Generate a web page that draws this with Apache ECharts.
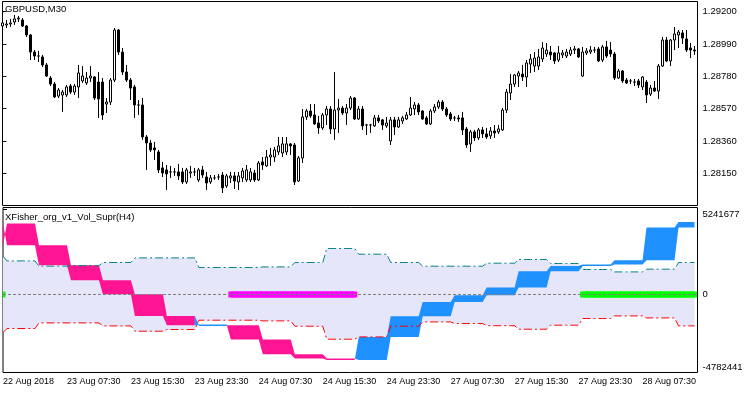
<!DOCTYPE html>
<html><head><meta charset="utf-8">
<script src="https://cdn.jsdelivr.net/npm/echarts@6/dist/echarts.min.js"></script>
<style>html,body{margin:0;padding:0;background:#fff}#c{width:750px;height:394px}</style>
</head><body><div id="c"></div>
<script>
// ---- time axis ----
const timeLabels = ["22 Aug 2018","23 Aug 07:30","23 Aug 15:30","23 Aug 23:30","24 Aug 07:30","24 Aug 15:30","24 Aug 23:30","27 Aug 07:30","27 Aug 15:30","27 Aug 23:30","28 Aug 07:30"];
const timeLabelBars = [0,16,32,48,64,80,96,112,128,144,160];

// ---- GBPUSD M30 candles (bar index 0..173) ----
const open = [1.29107,1.29114,1.29120,1.29133,1.29153,1.29146,1.29107,1.29049,1.28938,1.28912,
1.28906,1.28854,1.28769,1.28730,1.28652,1.28659,1.28659,1.28717,1.28678,1.28711,
1.28750,1.28737,1.28769,1.28776,1.28743,1.28743,1.28600,1.28613,1.28756,1.29081,
1.28938,1.28808,1.28756,1.28711,1.28594,1.28594,1.28386,1.28347,1.28315,1.28289,
1.28185,1.28172,1.28159,1.28159,1.28159,1.28159,1.28094,1.28152,1.28159,1.28107,
1.28172,1.28126,1.28094,1.28120,1.28126,1.28139,1.28068,1.28120,1.28133,1.28094,
1.28120,1.28107,1.28107,1.28152,1.28107,1.28224,1.28198,1.28256,1.28256,1.28289,
1.28282,1.28289,1.28341,1.28334,1.28100,1.28250,1.28516,1.28555,1.28529,1.28477,
1.28445,1.28529,1.28568,1.28438,1.28561,1.28574,1.28542,1.28574,1.28639,1.28503,
1.28568,1.28464,1.28464,1.28458,1.28510,1.28497,1.28458,1.28360,1.28497,1.28451,
1.28490,1.28503,1.28529,1.28568,1.28594,1.28555,1.28510,1.28471,1.28555,1.28581,
1.28613,1.28568,1.28536,1.28510,1.28510,1.28510,1.28438,1.28341,1.28419,1.28380,
1.28432,1.28406,1.28393,1.28425,1.28419,1.28432,1.28561,1.28672,1.28730,1.28782,
1.28795,1.28776,1.28860,1.28847,1.28847,1.28893,1.28925,1.28938,1.28932,1.28886,
1.28919,1.28912,1.28925,1.28951,1.28958,1.28782,1.28932,1.28938,1.28951,1.28958,
1.28886,1.28971,1.28951,1.28925,1.28769,1.28815,1.28756,1.28750,1.28743,1.28750,
1.28711,1.28743,1.28665,1.28704,1.28685,1.28847,1.29016,1.28880,1.29016,1.29049,
1.29062,1.29023,1.28964,1.28951];
const close = [1.29127,1.29120,1.29127,1.29153,1.29159,1.29107,1.29049,1.28938,1.28912,1.28912,
1.28854,1.28782,1.28730,1.28646,1.28691,1.28678,1.28711,1.28678,1.28717,1.28802,
1.28782,1.28769,1.28782,1.28639,1.28633,1.28529,1.28613,1.28756,1.29081,1.28938,
1.28808,1.28756,1.28704,1.28594,1.28594,1.28386,1.28347,1.28302,1.28302,1.28172,
1.28152,1.28146,1.28159,1.28159,1.28133,1.28094,1.28172,1.28159,1.28159,1.28172,
1.28139,1.28087,1.28120,1.28120,1.28126,1.28055,1.28133,1.28133,1.28100,1.28133,
1.28165,1.28172,1.28159,1.28107,1.28217,1.28204,1.28256,1.28269,1.28302,1.28328,
1.28341,1.28341,1.28328,1.28094,1.28250,1.28516,1.28555,1.28523,1.28471,1.28445,
1.28529,1.28568,1.28438,1.28561,1.28574,1.28542,1.28574,1.28639,1.28503,1.28568,
1.28458,1.28464,1.28464,1.28510,1.28490,1.28464,1.28477,1.28497,1.28451,1.28497,
1.28510,1.28529,1.28574,1.28594,1.28549,1.28503,1.28471,1.28555,1.28581,1.28613,
1.28568,1.28529,1.28503,1.28510,1.28503,1.28432,1.28334,1.28419,1.28380,1.28432,
1.28406,1.28386,1.28425,1.28412,1.28438,1.28561,1.28678,1.28730,1.28789,1.28802,
1.28776,1.28867,1.28893,1.28899,1.28906,1.28964,1.28951,1.28919,1.28880,1.28932,
1.28932,1.28938,1.28951,1.28958,1.28906,1.28938,1.28945,1.28951,1.28951,1.28880,
1.28971,1.28912,1.28925,1.28769,1.28815,1.28750,1.28737,1.28750,1.28743,1.28724,
1.28776,1.28659,1.28704,1.28685,1.28847,1.29016,1.28880,1.29016,1.29055,1.29068,
1.29029,1.28951,1.28951,1.28945];
const high = [1.29179,1.29146,1.29153,1.29179,1.29172,1.29159,1.29114,1.29055,1.28951,1.28945,
1.28919,1.28867,1.28782,1.28743,1.28704,1.28691,1.28724,1.28730,1.28730,1.28854,
1.28847,1.28808,1.28847,1.28782,1.28808,1.28769,1.28639,1.28769,1.29094,1.29088,
1.28964,1.28854,1.28769,1.28724,1.28626,1.28639,1.28399,1.28367,1.28354,1.28302,
1.28224,1.28204,1.28198,1.28185,1.28211,1.28185,1.28185,1.28198,1.28185,1.28185,
1.28198,1.28159,1.28139,1.28139,1.28146,1.28159,1.28146,1.28159,1.28159,1.28159,
1.28185,1.28204,1.28185,1.28172,1.28230,1.28256,1.28302,1.28315,1.28321,1.28386,
1.28386,1.28386,1.28347,1.28347,1.28263,1.28568,1.28568,1.28600,1.28600,1.28523,
1.28542,1.28587,1.28587,1.28808,1.28633,1.28587,1.28600,1.28652,1.28646,1.28587,
1.28587,1.28471,1.28471,1.28529,1.28529,1.28503,1.28516,1.28516,1.28516,1.28516,
1.28523,1.28549,1.28646,1.28613,1.28607,1.28561,1.28523,1.28568,1.28600,1.28626,
1.28626,1.28581,1.28549,1.28523,1.28529,1.28549,1.28451,1.28432,1.28432,1.28445,
1.28451,1.28445,1.28451,1.28464,1.28464,1.28574,1.28698,1.28795,1.28795,1.28815,
1.28854,1.28886,1.28925,1.28938,1.28958,1.29003,1.28997,1.28977,1.28938,1.28977,
1.28951,1.28958,1.28971,1.28977,1.28964,1.28971,1.28964,1.28977,1.28971,1.28971,
1.28984,1.29010,1.29003,1.28938,1.28828,1.28821,1.28769,1.28763,1.28763,1.28763,
1.28782,1.28756,1.28724,1.28750,1.28860,1.29036,1.29036,1.29023,1.29101,1.29081,
1.29081,1.29081,1.28997,1.28977];
const low = [1.29036,1.29094,1.29101,1.29114,1.29133,1.29101,1.29036,1.28886,1.28886,1.28873,
1.28841,1.28776,1.28717,1.28639,1.28639,1.28549,1.28646,1.28665,1.28659,1.28639,
1.28737,1.28724,1.28743,1.28626,1.28510,1.28497,1.28542,1.28594,1.28743,1.28919,
1.28789,1.28743,1.28626,1.28510,1.28529,1.28367,1.28172,1.28289,1.28237,1.28152,
1.28126,1.28042,1.28120,1.28133,1.28107,1.28081,1.28081,1.28120,1.28133,1.28094,
1.28120,1.28042,1.28081,1.28107,1.28107,1.28022,1.28055,1.28087,1.28048,1.28042,
1.28094,1.28094,1.28094,1.28094,1.28100,1.28172,1.28191,1.28198,1.28224,1.28269,
1.28256,1.28269,1.28269,1.28074,1.28094,1.28217,1.28497,1.28510,1.28464,1.28406,
1.28432,1.28464,1.28406,1.28367,1.28412,1.28529,1.28464,1.28561,1.28497,1.28497,
1.28432,1.28399,1.28412,1.28451,1.28477,1.28432,1.28445,1.28334,1.28399,1.28445,
1.28471,1.28497,1.28523,1.28529,1.28529,1.28497,1.28464,1.28464,1.28542,1.28568,
1.28555,1.28516,1.28490,1.28490,1.28484,1.28399,1.28315,1.28289,1.28360,1.28367,
1.28380,1.28373,1.28373,1.28380,1.28406,1.28425,1.28542,1.28626,1.28711,1.28711,
1.28750,1.28711,1.28802,1.28808,1.28821,1.28873,1.28906,1.28886,1.28860,1.28873,
1.28899,1.28899,1.28912,1.28925,1.28899,1.28776,1.28919,1.28925,1.28932,1.28873,
1.28873,1.28899,1.28906,1.28756,1.28763,1.28737,1.28730,1.28730,1.28717,1.28704,
1.28691,1.28607,1.28652,1.28678,1.28633,1.28841,1.28873,1.28847,1.28951,1.28964,
1.28990,1.28938,1.28899,1.28919];
const priceTicks = [1.2815,1.2836,1.2857,1.2878,1.2899,1.2920];

// ---- XFisher indicator, one value per H4 bar ----
const bandUpper = [2364000,2074000,1753000,1778000,1975000,2259000,2259000,1667000,1667000,1704000,1975000,2839000,2488000,1975000,1747000,1747000,1932000,2160000,1914000,1543000,1395000,1562000,1975000];
const bandLower = [-2346000,-2099000,-1753000,-1753000,-1938000,-2265000,-2160000,-1586000,-1586000,-1630000,-1957000,-2759000,-2617000,-1957000,-1691000,-1790000,-1926000,-2142000,-1895000,-1481000,-1321000,-1444000,-1938000];
const fisher = [4382688,3043190,1808630,882710,15000,-1320979,-1895050,-1895050,-2777760,-3685162,-3950592,-4043184,-2617267,-1339498,-456787,-43210,432096,1438262,1765421,1851840,2117270,4135776,4481453];
const fisherPrev = [3043190,4382688,3043190,1808630,882710,15000,-1320979,-1895050,-1895050,-2777760,-3685162,-3950592,-4043184,-2617267,-1339498,-456787,-43210,432096,1438262,1765421,1851840,2117270,4135776];
const signal = [1,0,0,0,0,0,0,0,-1,-1,-1,-1,0,0,0,0,0,0,0,1,1,1,1];
const indTicks = [-4782441,0,5241677];

// ---- build per-M30-bar tables ----
const nBars = open.length;
const barsPerH4 = 8;
const segOf = i => i === 0 ? 0 : Math.ceil(i / barsPerH4);
const candles = [], bandData = [], histData = [], markData = [], upData = [], loData = [], zeroData = [];
for (let i = 0; i < nBars; i++) {
  const k = segOf(i), kp = segOf(Math.max(i - 1, 0));
  candles.push([i, open[i], close[i], low[i], high[i]]);
  upData.push([i, bandUpper[k]]);
  loData.push([i, bandLower[k]]);
  bandData.push([i, bandUpper[k], bandLower[k]]);
  histData.push([i, fisher[k], fisherPrev[k]]);
  zeroData.push([i, 0]);
  markData.push([i, 0, signal[k], i === 0 ? 0 : signal[kp]]);
}

const FONT = '"Liberation Sans", Arial, sans-serif';
const UP_COLOR = '#1E90FF', DOWN_COLOR = '#FF1493';
const chart = echarts.init(document.getElementById('c'), null, {renderer: 'canvas'});

function dashLine(data, color, z) {
  return {
    type: 'custom', xAxisIndex: 1, yAxisIndex: 1, clip: true, silent: true, z: z,
    data: data, encode: {x: 0, y: 1},
    renderItem: function (params, api) {
      if (params.dataIndexInside !== 0) return null;
      const pts = [];
      for (let j = 0; j < nBars; j++) pts.push(api.coord([api.value(0, j), api.value(1, j)]));
      return {type: 'polyline', shape: {points: pts},
        style: {stroke: color, lineWidth: 1, lineDash: [8, 3, 2, 3], fill: 'none', blend: 'multiply'}};
    }
  };
}

chart.setOption({
  animation: false,
  backgroundColor: '#ffffff',
  title: [
    {text: 'GBPUSD,M30', left: 5, top: 4, padding: 0, textStyle: {fontSize: 9.5, fontWeight: 'normal', color: '#000', fontFamily: FONT}},
    {text: 'XFisher_org_v1_Vol_Supr(H4)', left: 5, top: 212, padding: 0, textStyle: {fontSize: 9.5, fontWeight: 'normal', color: '#000', fontFamily: FONT}}
  ],
  grid: [
    {left: 2.5, top: 1.5, width: 695, height: 204, show: true, borderColor: '#000', borderWidth: 1, backgroundColor: 'transparent'},
    {left: 2.5, top: 207.5, width: 695, height: 165, show: true, borderColor: '#000', borderWidth: 1, backgroundColor: 'transparent'}
  ],
  xAxis: [
    {type: 'value', gridIndex: 0, min: 0, max: 173.75, show: false},
    {type: 'value', gridIndex: 1, min: 0, max: 173.75, interval: 16,
      axisLine: {show: false}, splitLine: {show: false},
      axisTick: {show: true, customValues: timeLabelBars, length: 4, lineStyle: {color: '#000'}},
      axisLabel: {customValues: timeLabelBars, align: 'left', margin: 5, fontSize: 9, color: '#000', fontFamily: FONT,
        formatter: v => timeLabels[timeLabelBars.indexOf(v)] || ''}}
  ],
  yAxis: [
    {type: 'value', gridIndex: 0, position: 'right', min: 1.279408, max: 1.292663,
      axisLine: {show: false}, splitLine: {show: false},
      axisTick: {show: true, customValues: priceTicks, length: 4, lineStyle: {color: '#000'}},
      axisLabel: {customValues: priceTicks, margin: 5, fontSize: 9.5, color: '#000', fontFamily: FONT, formatter: v => v.toFixed(5)}},
    {type: 'value', gridIndex: 1, position: 'right', min: -4814784, max: 5370336,
      axisLine: {show: false}, splitLine: {show: false},
      axisTick: {show: true, customValues: indTicks, length: 4, lineStyle: {color: '#000'}},
      axisLabel: {customValues: indTicks, margin: 5, fontSize: 9.5, color: '#000', fontFamily: FONT,
        verticalAlignMinLabel: 'bottom', verticalAlignMaxLabel: 'top', formatter: v => String(v)}}
  ],
  series: [
    {type: 'candlestick', xAxisIndex: 0, yAxisIndex: 0, data: candles, encode: {x: 0, y: [1, 2, 3, 4]},
      barWidth: 2, clip: true, silent: true,
      itemStyle: {color: '#ffffff', color0: '#000000', borderColor: '#000000', borderColor0: '#000000', borderColorDoji: '#000000', borderWidth: 1}},
    // lavender band between upper and lower levels (one polygon)
    {type: 'custom', xAxisIndex: 1, yAxisIndex: 1, clip: true, silent: true, z: 1,
      data: bandData, encode: {x: 0, y: [1, 2]},
      renderItem: function (params, api) {
        if (params.dataIndexInside !== 0) return null;
        const pts = [];
        for (let j = 0; j < nBars; j++) pts.push(api.coord([api.value(0, j), api.value(1, j)]));
        for (let j = nBars - 1; j >= 0; j--) pts.push(api.coord([api.value(0, j), api.value(2, j)]));
        return {type: 'polygon', shape: {points: pts}, style: {fill: '#E6E6FA'}};
      }},
    // histogram fill between current and previous value, one polygon per same-colour run
    {type: 'custom', xAxisIndex: 1, yAxisIndex: 1, clip: true, silent: true, z: 2,
      data: histData, encode: {x: 0, y: [1, 2]},
      renderItem: function (params, api) {
        if (params.dataIndexInside !== 0) return null;
        const X = j => api.value(0, j), C = j => api.value(1, j), P = j => api.value(2, j);
        const kind = j => {
          const flat = C(j) === P(j) && C(j - 1) === P(j - 1);
          return (flat ? 'f' : 'a') + (C(j) >= P(j) ? 'u' : 'd');
        };
        const children = [];
        let s = 1;
        while (s < nBars) {
          const kd = kind(s);
          let e = s;
          while (e + 1 < nBars && kind(e + 1) === kd) e++;
          const color = kd[1] === 'u' ? UP_COLOR : DOWN_COLOR;
          if (kd[0] === 'f') {
            const pts = [];
            for (let j = s - 1; j <= e; j++) pts.push(api.coord([X(j), C(j)]));
            children.push({type: 'polyline', shape: {points: pts}, style: {stroke: color, lineWidth: 1.5, fill: 'none', blend: 'multiply'}});
          } else {
            const pts = [];
            for (let j = s - 1; j <= e; j++) pts.push(api.coord([X(j), P(j)]));
            for (let j = e; j >= s - 1; j--) pts.push(api.coord([X(j), C(j)]));
            children.push({type: 'polygon', shape: {points: pts}, style: {fill: color, blend: 'multiply'}});
          }
          s = e + 1;
        }
        return {type: 'group', children: children};
      }},
    dashLine(upData, '#008080', 3),
    dashLine(loData, '#FF0000', 3),
    // signal markers on the zero level
    {type: 'custom', xAxisIndex: 1, yAxisIndex: 1, clip: true, silent: true, z: 4,
      data: markData, encode: {x: 0, y: 1},
      renderItem: function (params, api) {
        const s = api.value(2), sp = api.value(3), i = api.value(0);
        if (!s) return null;
        const color = s > 0 ? '#00FF00' : '#FF00FF';
        const p = api.coord([i, 0]);
        const ch = [{type: 'rect', shape: {x: p[0] - 2.5, y: p[1] - 3, width: 5, height: 6}, style: {fill: color}}];
        if (sp === s) {
          const q = api.coord([i - 1, 0]);
          ch.push({type: 'rect', shape: {x: q[0], y: p[1] - 3, width: p[0] - q[0], height: 6}, style: {fill: color}});
        }
        return {type: 'group', children: ch};
      }},
    // zero level
    {type: 'line', xAxisIndex: 1, yAxisIndex: 1, data: zeroData, symbol: 'none', silent: true, z: 5,
      lineStyle: {opacity: 0},
      markLine: {silent: true, symbol: 'none', label: {show: false}, animation: false,
        lineStyle: {color: '#808080', type: [3, 2], width: 1}, data: [{yAxis: 0}]}}
  ]
});
</script></body></html>
